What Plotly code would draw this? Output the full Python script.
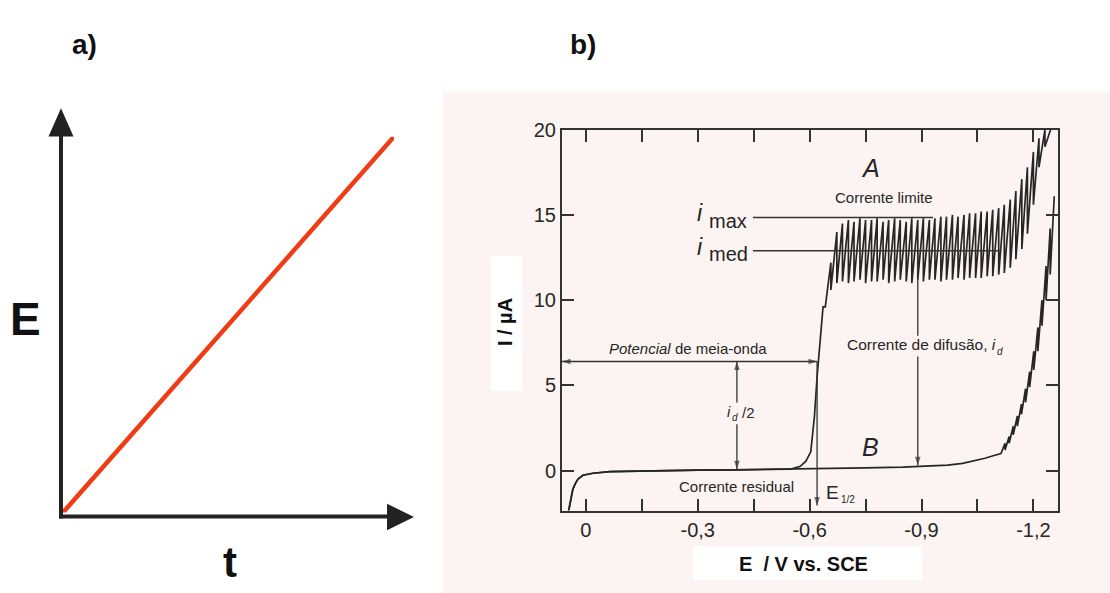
import plotly.graph_objects as go

W, H = 1110, 593

# ---------------- data ----------------
# panel a: linear potential ramp E(t)
T_RAMP = [0.0, 1.0]
E_RAMP = [0.0, 1.0]

# panel b: residual (common) part of both polarograms
E_RES = [0.046, 0.041, 0.035, 0.028, 0.021, 0.008, -0.019, -0.064, -0.20, -0.30, -0.40, -0.50, -0.55]
I_RES = [-2.35, -1.70, -1.10, -0.75, -0.50, -0.28, -0.16, -0.07, 0.00, 0.02, 0.04, 0.06, 0.08]

# curve A: reduction wave
E_A_RISE = [-0.575, -0.590, -0.603, -0.613, -0.620, -0.628, -0.636]
I_A_RISE = [0.25, 0.55, 1.10, 3.20, 5.50, 7.50, 9.60]

# curve A: mercury-drop oscillations (drop potentials, current at drop birth / just before fall)
E_A_DROPS = [-0.642, -0.657, -0.673, -0.688, -0.704, -0.719, -0.735, -0.750, -0.766, -0.781,
             -0.797, -0.812, -0.828, -0.843, -0.859, -0.874, -0.890, -0.905, -0.921, -0.936,
             -0.952, -0.967, -0.983, -0.998, -1.014, -1.029, -1.045, -1.060, -1.076, -1.091,
             -1.107, -1.122, -1.138, -1.153, -1.169, -1.184, -1.200, -1.215, -1.231, -1.246]
I_A_BOT = [9.6, 10.6, 11.0, 11.1, 11.0, 11.1, 11.2, 11.0, 11.1, 11.1,
           11.2, 11.0, 11.1, 11.2, 11.1, 11.0, 11.2, 11.1, 11.2, 11.2,
           11.1, 11.2, 11.2, 11.3, 11.2, 11.3, 11.3, 11.3, 11.4, 11.4,
           11.5, 11.6, 11.9, 12.4, 13.0, 13.9, 15.6, 17.8, 19.0]
I_A_TOP = [12.2, 14.0, 14.5, 14.7, 14.6, 14.8, 14.7, 14.7, 14.8, 14.6,
           14.7, 14.8, 14.7, 14.6, 14.8, 14.7, 14.8, 14.7, 14.8, 14.9,
           14.9, 15.0, 14.9, 15.0, 15.1, 15.1, 15.2, 15.2, 15.3, 15.4,
           15.6, 15.9, 16.4, 17.1, 17.8, 18.7, 19.5, 20.0, 20.0]

# curve B: supporting electrolyte only
E_B_TAIL = [-0.65, -0.75, -0.85, -0.92, -0.97, -1.01, -1.04, -1.07, -1.09, -1.113]
I_B_TAIL = [0.12, 0.15, 0.20, 0.25, 0.32, 0.42, 0.55, 0.72, 0.85, 1.00]
E_B_DROPS = [-1.113, -1.124, -1.135, -1.146, -1.157, -1.168, -1.179, -1.190, -1.201,
             -1.212, -1.223, -1.234, -1.245, -1.256]
I_B_BOT = [1.0, 1.2, 1.6, 2.1, 2.6, 3.3, 4.0, 4.9, 5.9, 7.0, 8.5, 10.0, 11.5]
I_B_TOP = [1.6, 2.0, 2.6, 3.2, 3.9, 4.8, 5.8, 7.0, 8.4, 10.0, 12.0, 14.2, 16.1]

# characteristic values
I_MAX = 14.85
I_MED = 12.9
E_HALF = -0.62
I_HALF = 6.4
E_ID_HALF_ARROW = -0.405
E_ID_ARROW = -0.89

X_TICKS = [0, -0.3, -0.6, -0.9, -1.2]
X_TICKTEXT = ["0", "-0,3", "-0,6", "-0,9", "-1,2"]
X_MINOR_TICKS = [-0.15, -0.45, -0.75, -1.05]
Y_TICKS = [0, 5, 10, 15, 20]
Y_TICKTEXT = ["0", "5", "10", "15", "20"]

X_RANGE = [0.064, -1.266]
Y_RANGE = [-2.35, 20]


# ---------------- helpers ----------------
def saw(drops, bot, top):
    xs, ys = [], []
    for k in range(len(bot)):
        xs += [drops[k], drops[k + 1]]
        ys += [bot[k], top[k]]
    return xs, ys


def px(x, y):
    return x / W, 1 - y / H


def path(points):
    s = ""
    for i, (x, y) in enumerate(points):
        X, Y = px(x, y)
        s += ("M " if i == 0 else " L ") + f"{X:.5f},{Y:.5f}"
    return s + " Z"


FONT = "Liberation Sans, Arial, Helvetica, sans-serif"
INK = "#262626"
PAPER = "#fcf4f2"

saw_ax, saw_ay = saw(E_A_DROPS, I_A_BOT, I_A_TOP)
saw_bx, saw_by = saw(E_B_DROPS, I_B_BOT, I_B_TOP)

fig = go.Figure()

# panel a ramp
fig.add_trace(go.Scatter(x=T_RAMP, y=E_RAMP, mode="lines", xaxis="x", yaxis="y",
                         line=dict(color="#f03c14", width=4.5), showlegend=False,
                         hoverinfo="skip"))
# panel b curves
fig.add_trace(go.Scatter(x=E_RES + E_B_TAIL + saw_bx, y=I_RES + I_B_TAIL + saw_by,
                         mode="lines", xaxis="x2", yaxis="y2",
                         line=dict(color=INK, width=1.7), showlegend=False))
fig.add_trace(go.Scatter(x=E_RES + E_A_RISE + saw_ax, y=I_RES + I_A_RISE + saw_ay,
                         mode="lines", xaxis="x2", yaxis="y2",
                         line=dict(color=INK, width=1.7), showlegend=False))


# dimension arrows drawn as line traces with arrow markers at the tips
def arrow_trace(xs, ys, heads, angles):
    fig.add_trace(go.Scatter(
        x=xs, y=ys, mode="lines+markers", xaxis="x2", yaxis="y2", showlegend=False,
        hoverinfo="skip", line=dict(color="#333", width=1.3),
        marker=dict(symbol="arrow", size=[9 if h else 0 for h in heads], angle=angles,
                    color="#333", line=dict(width=0)),
        cliponaxis=False))


# half-wave potential (double arrow, horizontal)
arrow_trace([X_RANGE[0], E_HALF], [I_HALF, I_HALF], [True, True], [-90, 90])
# i_d / 2 (double arrow, vertical)
arrow_trace([E_ID_HALF_ARROW, E_ID_HALF_ARROW], [I_HALF, 0.07], [True, True], [0, 180])
# E_1/2 drop line
arrow_trace([E_HALF, E_HALF], [I_HALF, -2.05], [False, True], [0, 180])
# diffusion current arrow
arrow_trace([E_ID_ARROW, E_ID_ARROW], [I_MED, 0.3], [False, True], [0, 180])

axis_common = dict(showgrid=False, zeroline=False, showline=True, linecolor="#333",
                   linewidth=2, ticks="inside", ticklen=12, tickwidth=2, tickcolor="#333",
                   mirror="allticks", tickfont=dict(family=FONT, size=20, color=INK))

fig.update_layout(
    width=W, height=H, margin=dict(l=0, r=0, t=0, b=0),
    paper_bgcolor="white", plot_bgcolor="rgba(0,0,0,0)",
    xaxis=dict(domain=[63 / W, 394 / W], range=[0, 1], visible=False, anchor="y"),
    yaxis=dict(domain=[1 - 511 / H, 1 - 128 / H], range=[0, 1], visible=False, anchor="x"),
    xaxis2=dict(domain=[562 / W, 1058 / W], range=X_RANGE, anchor="y2",
                tickvals=X_TICKS, ticktext=X_TICKTEXT,
                minor=dict(tickvals=X_MINOR_TICKS, ticks="inside", ticklen=12, tickwidth=2,
                           tickcolor="#333", showgrid=False),
                **axis_common),
    yaxis2=dict(domain=[1 - 509 / H, 1 - 121 / H], range=Y_RANGE, anchor="x2",
                tickvals=Y_TICKS, ticktext=Y_TICKTEXT, **axis_common),
)

shapes = []


def prect(a, b, c, d, color, layer):
    X0, Y0 = px(a, d)
    X1, Y1 = px(c, b)
    shapes.append(dict(type="rect", xref="paper", yref="paper", x0=X0, y0=Y0, x1=X1, y1=Y1,
                       fillcolor=color, line=dict(width=0), layer=layer))


# scanned-paper background of panel b
prect(443, 82, 1110, 593, PAPER, "below")
# white boxes behind axis titles
prect(491, 250, 522, 387, "white", "below")
prect(693, 545, 922, 580, "white", "below")
# gaps in the arrows behind their labels
prect(723, 399, 757, 421, PAPER, "above")
prect(842, 331, 1008, 352, PAPER, "above")

# panel a axes
for (a, b, c, d) in [(61, 517, 61, 126), (59, 515, 390, 515)]:
    X0, Y0 = px(a, b)
    X1, Y1 = px(c, d)
    shapes.append(dict(type="line", xref="paper", yref="paper", x0=X0, y0=Y0, x1=X1, y1=Y1,
                       line=dict(color="#222", width=4), layer="below"))
shapes.append(dict(type="path", xref="paper", yref="paper",
                   path=path([(48.5, 128), (73.5, 128), (61, 99)]),
                   fillcolor="#222", line=dict(width=0)))
shapes.append(dict(type="path", xref="paper", yref="paper",
                   path=path([(387, 502), (387, 529), (414, 515.5)]),
                   fillcolor="#222", line=dict(width=0)))
# i_max and i_med reference lines
shapes.append(dict(type="line", xref="x2", yref="y2", x0=-0.448, x1=-0.931, y0=I_MAX, y1=I_MAX,
                   line=dict(color="#333", width=1.3)))
shapes.append(dict(type="line", xref="x2", yref="y2", x0=-0.448, x1=-1.105, y0=I_MED, y1=I_MED,
                   line=dict(color="#333", width=1.3)))
fig.update_layout(shapes=shapes)

ann = []


def ptext(text, x, y, size, bold=False, italic=False, xanchor="center", color=INK, **kw):
    X, Y = px(x, y)
    t = text
    if italic:
        t = f"<i>{t}</i>"
    if bold:
        t = f"<b>{t}</b>"
    ann.append(dict(text=t, x=X, y=Y, xref="paper", yref="paper", showarrow=False,
                    xanchor=xanchor, yanchor="middle",
                    font=dict(family=FONT, size=size, color=color), **kw))


# panel labels
ptext("a)", 84, 34, 28, bold=True, color="#111")
ptext("b)", 583, 34, 28, bold=True, color="#111")
ptext("E", 25, 314, 46, bold=True, color="#111")
ptext("t", 230, 562, 42, bold=True, color="#111")

# axis titles of panel b
ptext("I / µA", 505, 317, 20, bold=True, color="#111", textangle=-90)
ptext("E  / V vs. SCE", 803, 563, 20, bold=True, color="#111")

# chart annotations
ptext("<i>Potencial</i> de meia-onda", 688, 344, 15)
ptext("Corrente residual", 736, 484, 15)
ptext("i", 729, 408, 15, italic=True)
ptext("d", 735, 414, 10, italic=True)
ptext("/2", 740, 409, 15, xanchor="left")
ptext("E", 832, 491, 19)
ptext("1/2", 848, 498, 10)
ptext("B", 870, 444, 25, italic=True)
ptext("A", 870, 160, 25, italic=True)
ptext("Corrente limite", 884, 190, 15)
ptext("Corrente de difusão, <i>i</i>", 845, 340, 15.5, xanchor="left")
ptext("d", 1000, 347, 10, italic=True)
ptext("i", 700, 206, 23, italic=True)
ptext("max", 707, 214, 20, xanchor="left")
ptext("i", 700, 240, 23, italic=True)
ptext("med", 707, 248, 20, xanchor="left")

fig.update_layout(annotations=ann)

fig.write_html("out.html")
